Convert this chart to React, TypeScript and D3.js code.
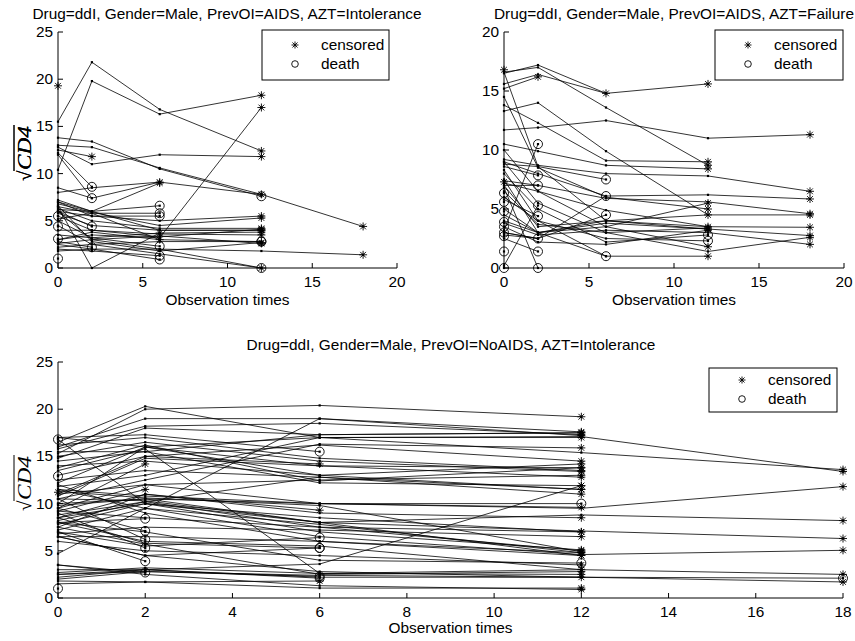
import React from "react";
import * as d3 from "d3";

const TIMES = [0, 2, 6, 12, 18];

const titles = [
  "Drug=ddI, Gender=Male, PrevOI=AIDS, AZT=Intolerance",
  "Drug=ddI, Gender=Male, PrevOI=AIDS, AZT=Failure",
  "Drug=ddI, Gender=Male, PrevOI=NoAIDS, AZT=Intolerance",
];
const legendLabels = ["censored", "death"];
const xLabel = "Observation times";

const topXTicks = [0, 5, 10, 15, 20];
const bottomXTicks = [0, 2, 4, 6, 8, 10, 12, 14, 16, 18];
const tlYTicks = [0, 5, 10, 15, 20, 25];
const trYTicks = [0, 5, 10, 15, 20];
const bYTicks = [0, 5, 10, 15, 20, 25];

// sqrt(CD4) trajectories at TIMES, panel top-left
const tlValues: number[][] = [
  [19.3], [15.5, 21.8, 16.8, 12.4], [10.4, 19.8, 16.3, 18.3], [13.0, 12.8, 10.6, 7.8, 4.4],
  [12.8, 11.0, 12.0, 11.8], [12.5, 11.8], [13.8, 13.4, 10.5, 7.6], [12.2, 8.6], [12.0, 7.4],
  [8.5, 7.4, 9.1, 7.8], [8.0, 8.5, 9.1], [7.2, 6.0, 9.0], [6.2, 6.0, 6.6], [6.5, 5.8, 5.8],
  [7.0, 5.5, 5.5], [6.0, 5.5, 5.0, 5.5], [6.3, 5.0, 4.2, 4.2], [5.8, 4.5, 4.0, 4.0], [6.0, 4.4],
  [5.5], [4.4], [3.1], [1.0], [3.0, 3.5, 3.2, 17.0], [6.5, 0.0, 3.7, 3.8], [2.8, 2.2],
  [2.5, 2.0, 2.0, 1.8, 1.4], [2.0, 1.8, 1.3], [1.8, 2.0, 0.9], [3.5, 3.2, 2.3], [3.0, 3.8, 3.0, 2.8],
  [2.6, 3.0, 3.4, 2.6], [5.0, 3.2, 3.7], [4.0, 4.0, 3.6, 3.5], [6.0, 3.0, 2.0, 0.0], [4.5, 2.5, 1.5, 0.0],
  [7.0, 6.0, 4.0, 4.0], [5.2, 5.8, 3.0], [6.8, 5.9, 4.5, 5.3], [2.2, 2.5, 2.8, 2.8], [5.5, 4.0, 3.3, 4.1],
  [6.6, 2.8, 1.8, 2.7],
];
const tlStatus = [
  "c", "c", "c", "c", "c", "c", "d", "d", "d", "c", "c", "c", "d", "d", "d", "c", "c", "c", "d",
  "d", "d", "d", "d", "c", "c", "d", "c", "d", "d", "d", "d", "c", "c", "c", "c", "d", "c", "c", "c",
  "d", "c", "c",
];

// panel top-right
const trValues: number[][] = [
  [16.8], [16.5, 17.2, 14.8, 15.6], [15.6, 16.4, 14.8], [15.2, 16.2], [16.6, 17.0, 13.6, 8.7],
  [13.3, 14.0, 9.9, 4.5], [11.7, 11.9, 12.5, 11.0, 11.3], [13.8, 12.3, 9.1, 9.0], [10.5, 9.9, 8.7, 8.4],
  [9.2, 8.7, 8.0, 7.8, 6.5], [8.8, 8.6, 7.5], [9.0, 8.0, 6.1, 6.2, 5.85], [7.3], [7.0, 7.0, 5.9, 5.6, 4.6],
  [6.35], [5.6], [4.8], [3.9], [3.5], [3.0], [2.7], [1.4], [0.0], [3.2, 10.5], [0.2, 5.3], [6.8, 0.0],
  [2.5, 1.4], [3.0, 2.5], [7.2, 6.5, 4.9, 3.5, 3.45], [4.5, 3.0, 3.8, 3.3, 2.75], [3.8, 2.8, 3.2, 3.0, 2.0],
  [2.8, 2.5, 4.5], [8.6, 7.85], [8.3, 4.0, 1.0, 1.0], [7.5, 3.0, 1.0], [10.0, 6.5, 3.5, 1.8],
  [9.0, 5.5, 3.0, 1.4, 2.6], [8.0, 5.0, 2.2, 2.8], [6.0, 4.0, 2.5, 2.3], [7.0, 3.5, 4.0, 3.5],
  [4.0, 3.0, 3.5, 5.5], [5.8, 4.4], [14.5, 8.5, 6.0, 5.0], [3.0, 2.5, 6.1], [16.6, 8.6, 4.0, 3.3],
  [7.4, 7.0], [5.0, 3.0, 4.0, 4.5, 4.5], [3.5, 2.2, 2.0, 3.2], [6.5, 3.7, 3.0, 3.4],
];
const trStatus = [
  "c", "c", "c", "c", "c", "c", "c", "c", "c", "c", "d", "c", "c", "c", "d", "d", "d", "d", "d", "d",
  "d", "d", "d", "d", "d", "d", "d", "d", "c", "c", "c", "d", "d", "c", "d", "c", "c", "d", "d", "c",
  "c", "d", "c", "d", "c", "d", "c", "c", "c",
];

// panel bottom
const bValues: number[][] = [
  [16.8], [12.9], [11.2], [1.0], [16.8, 10.0, 8.0, 7.1, 6.3], [16.5, 20.3, 17.0, 17.1, 13.4],
  [15.3, 20.0, 20.4, 19.2], [16.0, 19.0, 19.0, 17.6], [15.8, 18.2, 18.5, 17.3], [14.8, 18.0, 17.3, 17.5],
  [17.0, 17.3, 15.5], [15.0, 16.5, 14.5, 13.4], [13.8, 16.2, 12.4, 13.8], [13.5, 15.8, 2.6, 2.5],
  [15.5, 15.5, 12.2, 11.9], [10.0, 16.0, 13.0, 14.2], [11.0, 15.0, 14.2], [9.5, 14.2],
  [12.5, 13.5, 12.8, 11.5], [11.8, 13.0, 17.0, 15.4, 13.6], [10.5, 12.5, 16.3, 15.9], [9.2, 11.5],
  [11.0, 12.0, 10.0, 9.5, 11.8], [8.5, 11.0, 9.3], [10.0, 10.5, 8.0, 8.8, 8.2], [8.2, 10.2, 7.5, 7.0],
  [7.8, 10.0, 7.0, 5.1], [7.2, 9.5, 6.5, 4.6, 5.05], [12.0, 9.0, 6.0, 4.8], [8.0, 8.4], [9.5, 7.1],
  [10.5, 6.2], [9.0, 5.3], [8.5, 5.8, 5.3], [7.0, 5.5, 6.4], [6.5, 4.5, 5.3], [7.0, 3.9], [3.5, 2.7],
  [4.7, 9.5, 19.0, 17.2], [2.5, 3.0, 3.6, 11.9], [2.0, 2.8, 2.3], [2.2, 3.0, 2.1], [1.5, 1.7, 1.8],
  [2.7, 3.2, 2.6, 3.0, 2.5], [2.5, 2.8, 2.4, 2.2, 1.7], [3.0, 3.0, 2.2, 2.2, 2.1], [3.5, 2.5, 1.3, 0.9],
  [1.8, 1.7, 1.05, 1.05], [6.5, 6.5, 6.0, 4.5], [8.0, 7.0, 4.0, 3.7], [9.2, 8.5, 7.5, 5.0],
  [11.5, 10.8, 10.0, 9.6], [14.0, 14.5, 13.0, 11.5], [16.2, 17.0, 14.8, 13.5], [13.0, 15.0, 16.2, 14.5],
  [7.5, 11.0, 9.0, 8.5], [6.0, 5.0, 4.5, 3.5], [9.8, 10.5, 10.0, 10.0], [12.2, 16.0, 17.0, 17.0],
  [14.5, 15.5, 17.3, 17.5], [8.8, 10.2, 12.8, 11.0], [11.5, 9.5, 7.8, 4.8], [10.5, 10.3, 8.0, 4.5],
  [8.0, 6.0, 5.5, 3.0], [7.5, 5.7, 2.5, 2.8], [6.5, 4.5, 2.8, 2.2], [10.8, 14.8, 14.0, 12.8],
  [9.5, 12.0, 12.5, 13.0], [8.5, 10.0, 8.5, 7.0], [11.3, 10.6, 9.8, 4.9], [6.8, 7.5, 7.2, 6.5],
  [17.0, 16.0, 14.0, 13.8],
];
const bStatus = [
  "d", "d", "c", "d", "c", "c", "c", "c", "c", "c", "d", "c", "c", "c", "c", "c", "c", "c", "c", "c",
  "c", "c", "c", "c", "c", "c", "c", "c", "c", "d", "d", "d", "d", "d", "d", "d", "d", "d", "c", "c",
  "d", "d", "c", "c", "c", "d", "c", "c", "c", "d", "c", "c", "c", "c", "c", "c", "c", "d", "c", "c",
  "c", "c", "c", "c", "c", "c", "c", "c", "c", "c", "c", "c",
];

const FONT = "'Liberation Sans', Arial, Helvetica, sans-serif";
const SX = 1.1;

function Txt({ x, y, children, anchor = "start", size = 14 }: any) {
  return (
    <text
      transform={`translate(${x},${y}) scale(${SX},1)`}
      textAnchor={anchor}
      fontFamily={FONT}
      fontSize={size}
      fill="#000"
    >
      {children}
    </text>
  );
}

function Star({ x, y, r }: { x: number; y: number; r: number }) {
  const d = r * 0.72;
  return (
    <path
      d={`M${x - r},${y}H${x + r}M${x},${y - r}V${y + r}M${x - d},${y - d}L${x + d},${y + d}M${x - d},${y + d}L${x + d},${y - d}`}
      stroke="#000"
      strokeWidth={0.9}
      fill="none"
    />
  );
}

function Panel(props: any) {
  const { values, status, xDomain, yDomain, xRange, yRange, xTicks, yTicks, title, titleX, titleY, legend, xLabelY } = props;
  const x = d3.scaleLinear().domain(xDomain).range(xRange);
  const y = d3.scaleLinear().domain(yDomain).range(yRange);
  const line = d3
    .line<number>()
    .x((_, i) => x(TIMES[i]))
    .y((v) => y(v));
  const x0 = xRange[0];
  const y0 = yRange[0];
  const yLabelCY = (yRange[0] + yRange[1]) / 2 + 3;
  return (
    <g>
      <Txt x={titleX} y={titleY} anchor="middle">{title}</Txt>
      {values.map((vals: number[], i: number) =>
        vals.length > 1 ? (
          <path key={"l" + i} d={line(vals) || ""} stroke="#000" strokeWidth={0.8} fill="none" />
        ) : null
      )}
      {values.map((vals: number[], i: number) =>
        vals.map((v, j) => (
          <rect key={"p" + i + "-" + j} x={x(TIMES[j]) - 1.1} y={y(v) - 1.1} width={2.2} height={2.2} fill="#000" />
        ))
      )}
      {values.map((vals: number[], i: number) => {
        const j = vals.length - 1;
        const px = x(TIMES[j]);
        const py = y(vals[j]);
        return status[i] === "c" ? (
          <Star key={"m" + i} x={px} y={py} r={4} />
        ) : (
          <circle key={"m" + i} cx={px} cy={py} r={4.5} stroke="#000" strokeWidth={0.9} fill="none" />
        );
      })}
      <line x1={x0} x2={xRange[1]} y1={y0} y2={y0} stroke="#000" strokeWidth={1} />
      <line x1={x0} x2={x0} y1={yRange[0]} y2={yRange[1]} stroke="#000" strokeWidth={1} />
      {xTicks.map((t: number) => (
        <g key={"xt" + t}>
          <line x1={x(t)} x2={x(t)} y1={y0} y2={y0 - 5} stroke="#000" strokeWidth={1} />
          <Txt x={x(t)} y={y0 + 19} anchor="middle">{t}</Txt>
        </g>
      ))}
      {yTicks.map((t: number) => (
        <g key={"yt" + t}>
          <line x1={x0} x2={x0 + 5} y1={y(t)} y2={y(t)} stroke="#000" strokeWidth={1} />
          <Txt x={x0 - 5} y={y(t) + 5} anchor="end">{t}</Txt>
        </g>
      ))}
      <Txt x={(xRange[0] + xRange[1]) / 2} y={xLabelY} anchor="middle">{xLabel}</Txt>
      <g transform={`translate(31,${yLabelCY}) rotate(-90)`}>
        <text x={-28} y={0} fontFamily="'Liberation Serif', 'Times New Roman', serif" fontSize={19}>√</text>
        <text x={-17} y={0} fontFamily="'Liberation Serif', 'Times New Roman', serif" fontStyle="italic" fontSize={19} textLength={44} lengthAdjust="spacingAndGlyphs">CD4</text>
        <line x1={-18} x2={28} y1={-17} y2={-17} stroke="#000" strokeWidth={1} />
      </g>
      <rect x={legend.x} y={legend.y} width={legend.w} height={legend.h} fill="#fff" stroke="#000" strokeWidth={1} />
      <Star x={legend.x + 33} y={legend.y + legend.h / 2 - 10} r={3.5} />
      <circle cx={legend.x + 33} cy={legend.y + legend.h / 2 + 9} r={3.3} stroke="#000" strokeWidth={0.9} fill="none" />
      <Txt x={legend.x + 59} y={legend.y + legend.h / 2 - 5}>{legendLabels[0]}</Txt>
      <Txt x={legend.x + 59} y={legend.y + legend.h / 2 + 14}>{legendLabels[1]}</Txt>
    </g>
  );
}

export default function App() {
  return (
    <svg width={855} height={641} style={{ position: "absolute", left: 0, top: 0, background: "#fff" }}>
      <rect x={0} y={0} width={855} height={641} fill="#fff" />
      <Panel
        values={tlValues}
        status={tlStatus}
        xDomain={[0, 20]}
        yDomain={[0, 25]}
        xRange={[58, 397]}
        yRange={[268, 32]}
        xTicks={topXTicks}
        yTicks={tlYTicks}
        title={titles[0]}
        titleX={227}
        titleY={19}
        xLabelY={305}
        legend={{ x: 262, y: 30, w: 127, h: 50 }}
      />
      <Panel
        values={trValues}
        status={trStatus}
        xDomain={[0, 20]}
        yDomain={[0, 20]}
        xRange={[504, 844]}
        yRange={[268, 32]}
        xTicks={topXTicks}
        yTicks={trYTicks}
        title={titles[1]}
        titleX={674}
        titleY={19}
        xLabelY={305}
        legend={{ x: 715, y: 30, w: 128, h: 50 }}
      />
      <Panel
        values={bValues}
        status={bStatus}
        xDomain={[0, 18]}
        yDomain={[0, 25]}
        xRange={[58, 843]}
        yRange={[598, 362]}
        xTicks={bottomXTicks}
        yTicks={bYTicks}
        title={titles[2]}
        titleX={451}
        titleY={350}
        xLabelY={633}
        legend={{ x: 709, y: 368, w: 128, h: 44 }}
      />
    </svg>
  );
}
